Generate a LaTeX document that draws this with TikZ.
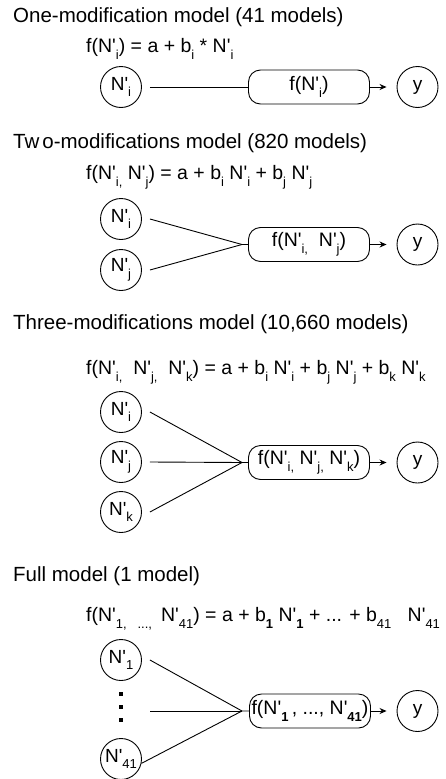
\documentclass[tikz,border=0pt]{standalone}
\usepackage{fontspec}
\setmainfont{Liberation Sans}
\usetikzlibrary{arrows.meta}
\newcommand{\dn}[1]{\raisebox{-0.36em}{\fontsize{13}{13}\selectfont #1}}
\newcommand{\Np}{N\textquotesingle}
\begin{document}
\begin{tikzpicture}[x=1pt,y=-1pt,
  inp/.style={draw, circle, minimum size=41pt, inner sep=0pt, line width=0.9pt, font=\fontsize{19}{19}\selectfont},
  fbox/.style={draw, rounded corners=12pt, minimum width=121pt, minimum height=34pt, inner sep=0pt, line width=0.9pt, font=\fontsize{19.5}{19.5}\selectfont},
  ttl/.style={anchor=base west, inner sep=0pt, font=\fontsize{20.5}{20.5}\selectfont},
  frm/.style={anchor=base west, inner sep=0pt, font=\fontsize{19.5}{19.5}\selectfont},
  conn/.style={line width=0.9pt},
  arr/.style={conn, -{Stealth[length=7pt,width=6pt]}, shorten >=10pt}]
\useasboundingbox (0,0) rectangle (445,779);
% ---------- section 1
\node[ttl] (t1) at (13,22) {One-modification model (41 models)};
\node[frm] (f1) at (86,52) {f(\Np\dn{i}) = a + b\dn{i} * \Np\dn{i}};
\node[inp] (a1) at (121,87) {\Np\dn{i}};
\node[fbox] (b1) at (309,87) {f(\Np\dn{i})};
\node[inp] (y1) at (417.5,87) {y};
\draw[conn] ([xshift=8pt]a1.east) -- (b1.west);
\draw[arr] (b1.east) -- (y1);
% ---------- section 2
\node[ttl] (t2) at (13,148) {Tw\kern3pt o-modifications model (820 models)};
\node[frm] (f2) at (86,179) {f(\Np\dn{i,}\ \Np\dn{j}) = a + b\dn{i} \Np\dn{i} + b\dn{j} \Np\dn{j}};
\node[inp] (a2) at (121,219) {\Np\dn{i}};
\node[inp] (c2) at (121,270) {\Np\dn{j}};
\node[fbox] (b2) at (309,244.5) {f(\Np\dn{i,}\ \ \Np\dn{j})};
\node[inp] (y2) at (417.5,244.5) {y};
\coordinate (m2) at (242,244.5);
\draw[conn] ([xshift=8pt]a2.east) -- (m2) -- (b2.west);
\draw[conn] ([xshift=8pt]c2.east) -- (m2);
\draw[arr] (b2.east) -- (y2);
% ---------- section 3
\node[ttl] (t3) at (13,329) {Three-modifications model (10,660 models)};
\node[frm] (f3) at (86,374) {f(\Np\dn{i,}\ \ \Np\dn{j,}\ \ \Np\dn{k}) = a + b\dn{i} \Np\dn{i} + b\dn{j} \Np\dn{j} + b\dn{k} \Np\dn{k}};
\node[inp] (a3) at (121,412) {\Np\dn{i}};
\node[inp] (c3) at (121,462) {\Np\dn{j}};
\node[inp] (d3) at (121,512) {\Np\dn{k}};
\node[fbox] (b3) at (309,462.5) {f(\Np\dn{i,}\ \Np\dn{j,}\ \Np\dn{k})};
\node[inp] (y3) at (417.5,462.5) {y};
\coordinate (m3) at (242,462.5);
\draw[conn] ([xshift=8pt]a3.east) -- (m3) -- (b3.west);
\draw[conn] ([xshift=8pt]c3.east) -- (m3);
\draw[conn] ([xshift=8pt]d3.east) -- (m3);
\draw[arr] (b3.east) -- (y3);
% ---------- section 4
\node[ttl] (t4) at (13,581) {Full model (1 model)};
\node[frm] (f4) at (86,621) {f(\Np\dn{1,\ \ \ ...,\ }\ \Np\dn{41}) = a + b\dn{\textbf{1}} \Np\dn{\textbf{1}} + ... + b\dn{41}\ \ \ \Np\dn{41}};
\node[inp] (a4) at (121,660) {\Np\dn{1}};
\node[inp] (d4) at (121,759) {\Np\dn{41}};
\fill (119,692) rectangle (123,696);
\fill (119,705) rectangle (123,709);
\fill (119,718) rectangle (123,722);
\coordinate (c4) at (150,711);
\node[fbox] (b4) at (310,711) {f(\Np\dn{\textbf{1}}\,, ..., \Np\dn{\textbf{41}})};
\node[inp] (y4) at (417.5,711) {y};
\coordinate (m4) at (242,711);
\draw[conn] ([xshift=8pt]a4.east) -- (m4) -- (b4.west);
\draw[conn] (c4) -- (m4);
\draw[conn] (d4.-12) -- (m4);
\draw[arr] (b4.east) -- (y4);
\end{tikzpicture}
\end{document}
